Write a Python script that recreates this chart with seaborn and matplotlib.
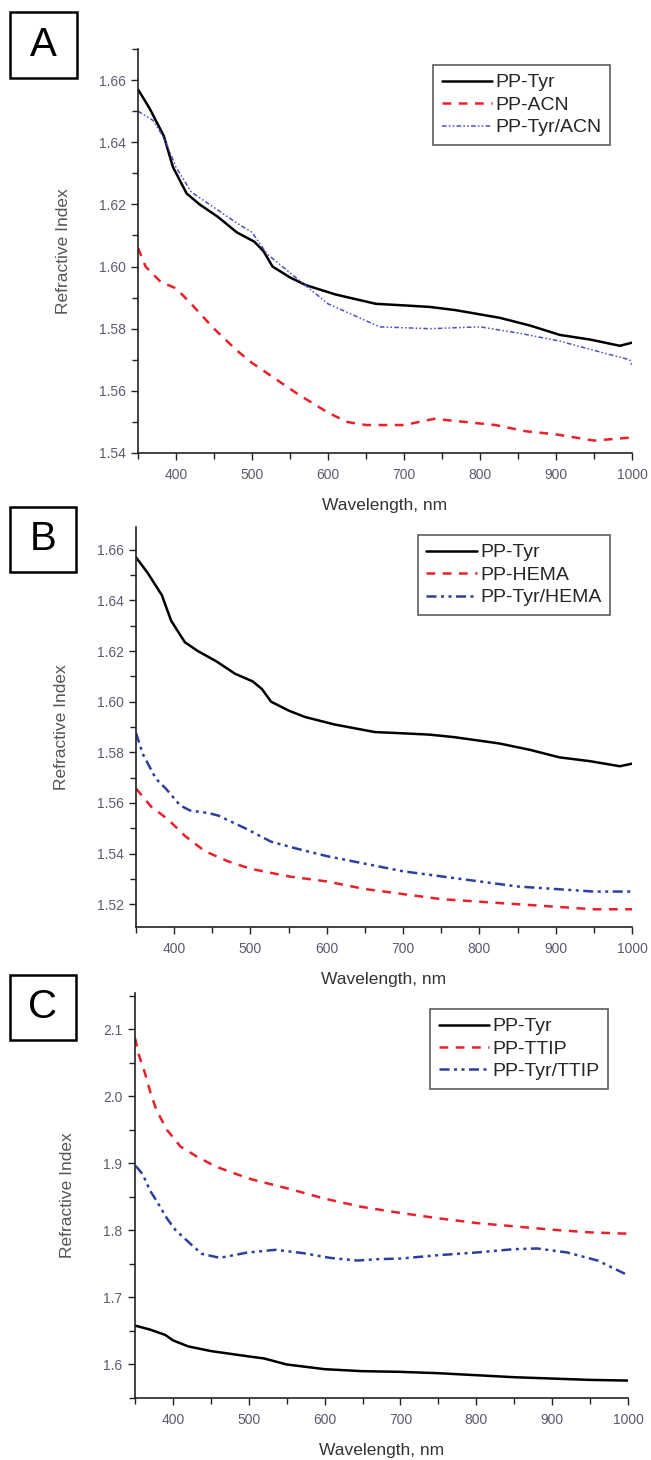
import numpy as np
import pandas as pd
import seaborn as sns
import matplotlib.pyplot as plt
from matplotlib.patches import Rectangle
from matplotlib.ticker import MultipleLocator

sns.set_style('white')
plt.rcParams['font.family'] = ['Liberation Sans', 'DejaVu Sans']

# ---- data ----
# PP-Tyr, shared by panels A and B
wl_tyr = [350, 365, 384, 396, 414, 431, 455, 480, 503, 515, 527, 550, 571, 610, 663,
          700, 734, 767, 826, 866, 905, 945, 984, 1000]
ri_tyr = [1.657, 1.651, 1.642, 1.632, 1.6235, 1.620, 1.616, 1.611, 1.608, 1.605, 1.600,
          1.5965, 1.594, 1.591, 1.588, 1.5875, 1.587, 1.586, 1.5835, 1.581, 1.578,
          1.5765, 1.5745, 1.5755]

# panel A
wl_acn = [350, 360, 380, 400, 420, 450, 480, 500, 530, 560, 600, 625, 650, 700,
          740, 780, 820, 860, 900, 950, 1000]
ri_acn = [1.606, 1.600, 1.595, 1.593, 1.588, 1.580, 1.573, 1.569, 1.564, 1.559, 1.553,
          1.550, 1.549, 1.549, 1.551, 1.550, 1.549, 1.547, 1.546, 1.544, 1.545]

wl_tyr_acn = [350, 370, 385, 400, 420, 450, 480, 500, 520, 550, 580, 600, 668, 734,
              800, 853, 905, 958, 997, 1000]
ri_tyr_acn = [1.650, 1.647, 1.641, 1.632, 1.624, 1.619, 1.614, 1.611, 1.604, 1.598,
              1.592, 1.588, 1.5806, 1.580, 1.5806, 1.5785, 1.5760, 1.5725, 1.570, 1.568]

# panel B
wl_hema = [350, 370, 392, 414, 440, 470, 500, 550, 600, 650, 700, 750, 800, 850,
           900, 950, 1000]
ri_hema = [1.5657, 1.5585, 1.5535, 1.547, 1.541, 1.537, 1.534, 1.531, 1.529, 1.526,
           1.524, 1.522, 1.521, 1.520, 1.519, 1.518, 1.518]

wl_tyr_hema = [350, 359, 376, 389, 408, 421, 445, 458, 493, 527, 560, 600, 650, 700,
               750, 800, 850, 900, 950, 1000]
ri_tyr_hema = [1.5876, 1.5793, 1.5696, 1.5657, 1.559, 1.557, 1.556, 1.555, 1.550,
               1.5447, 1.542, 1.539, 1.536, 1.533, 1.531, 1.529, 1.527, 1.526, 1.525,
               1.525]

# panel C
wl_ttip = [350, 355, 363, 370, 378, 392, 410, 433, 457, 481, 504, 553, 601, 649,
           700, 750, 800, 850, 900, 950, 1000]
ri_ttip = [2.087, 2.062, 2.035, 2.007, 1.980, 1.950, 1.925, 1.909, 1.895, 1.885,
           1.876, 1.862, 1.847, 1.835, 1.826, 1.818, 1.811, 1.806, 1.801, 1.797, 1.795]

wl_tyr_ttip = [351, 360, 370, 379, 392, 403, 423, 438, 462, 497, 535, 572, 607, 643,
               669, 700, 750, 800, 850, 880, 920, 960, 1000]
ri_tyr_ttip = [1.896, 1.884, 1.859, 1.843, 1.818, 1.801, 1.780, 1.765, 1.759, 1.7667,
               1.771, 1.766, 1.759, 1.755, 1.757, 1.758, 1.763, 1.767, 1.772, 1.773,
               1.767, 1.755, 1.733]

wl_tyr_c = [350, 370, 390, 400, 420, 450, 500, 520, 550, 600, 650, 700, 750, 800,
            850, 900, 950, 1000]
ri_tyr_c = [1.658, 1.652, 1.644, 1.636, 1.627, 1.620, 1.612, 1.609, 1.600, 1.593,
            1.590, 1.589, 1.587, 1.584, 1.581, 1.579, 1.577, 1.576]

RED = '#e8202a'
BLUE_A = '#4a4fc0'
BLUE = '#2d3f9e'
TICK_COL = '#5c5a70'

W, H = 651, 1460
fig = plt.figure(figsize=(W / 100, H / 100), dpi=100)


def px_axes(left, right, top, bottom):
    return fig.add_axes([left / W, 1 - bottom / H, (right - left) / W, (bottom - top) / H])


def style_axes(ax, ymaj, ymin, ylim, fmt):
    ax.set_xlim(350, 1000)
    ax.set_ylim(*ylim)
    ax.xaxis.set_minor_locator(MultipleLocator(50))
    ax.yaxis.set_major_locator(MultipleLocator(ymaj))
    ax.yaxis.set_minor_locator(MultipleLocator(ymin))
    ax.yaxis.set_major_formatter(plt.FormatStrFormatter(fmt))
    ax.set_xticks([400, 500, 600, 700, 800, 900, 1000])
    for s in ['top', 'right']:
        ax.spines[s].set_visible(False)
    for s in ['left', 'bottom']:
        ax.spines[s].set_color('#222222')
        ax.spines[s].set_linewidth(1.2)
    ax.tick_params(which='both', direction='out', color='#222222', width=1.0,
                   bottom=True, left=True, labelsize=10, labelcolor=TICK_COL)
    ax.tick_params(which='major', length=5, pad=4)
    ax.tick_params(which='minor', length=4)
    ax.tick_params(axis='x', which='major', pad=6)
    ax.set_xlabel('Wavelength, nm', fontsize=12.5, color='#333333', labelpad=11)
    ax.set_ylabel('Refractive Index', fontsize=12.5, color='#555555', labelpad=20)


def letter_box(letter, x0, y0, x1, y1):
    fig.patches.append(Rectangle((x0 / W, 1 - y1 / H), (x1 - x0) / W, (y1 - y0) / H,
                                 transform=fig.transFigure, fill=False,
                                 edgecolor='black', linewidth=1.8))
    fig.text((x0 + x1) / 2 / W, 1 - (y0 + y1) / 2 / H, letter, fontsize=29,
             ha='center', va='center', color='black')


def add_legend(ax, right, top):
    leg = ax.legend(loc='upper right', bbox_to_anchor=(right / W, 1 - top / H),
                    bbox_transform=fig.transFigure, borderaxespad=0, fancybox=False,
                    frameon=True, fontsize=14, handlelength=2.6, handletextpad=0.15,
                    labelspacing=0.25, borderpad=0.45)
    leg.get_frame().set_edgecolor('#333333')
    leg.get_frame().set_linewidth(1.2)


# ---- panel A ----
axA = px_axes(138, 632, 49, 453)
sns.lineplot(x=wl_tyr, y=ri_tyr, ax=axA, color='black', lw=1.8, label='PP-Tyr')
sns.lineplot(x=wl_acn, y=ri_acn, ax=axA, color=RED, lw=1.8,
             linestyle=(0, (3.5, 3)), label='PP-ACN')
sns.lineplot(x=wl_tyr_acn, y=ri_tyr_acn, ax=axA, color=BLUE_A, lw=1.1,
             linestyle=(0, (3, 1.5, 1, 1.5, 1, 1.5)), label='PP-Tyr/ACN')
style_axes(axA, 0.02, 0.01, (1.54, 1.670), '%.2f')
add_legend(axA, 610, 65)
letter_box('A', 10, 12, 77, 78)

# ---- panel B ----
axB = px_axes(136, 632, 527, 927)
sns.lineplot(x=wl_tyr, y=ri_tyr, ax=axB, color='black', lw=1.8, label='PP-Tyr')
sns.lineplot(x=wl_hema, y=ri_hema, ax=axB, color=RED, lw=1.8,
             linestyle=(0, (3.5, 3)), label='PP-HEMA')
sns.lineplot(x=wl_tyr_hema, y=ri_tyr_hema, ax=axB, color=BLUE, lw=1.8,
             linestyle=(0, (4, 1.8, 1.2, 1.8, 1.2, 1.8)), label='PP-Tyr/HEMA')
style_axes(axB, 0.02, 0.01, (1.511, 1.669), '%.2f')
add_legend(axB, 610, 535)
letter_box('B', 10, 507, 76, 572)

# ---- panel C ----
axC = px_axes(135, 628, 993, 1398)
sns.lineplot(x=wl_tyr_c, y=ri_tyr_c, ax=axC, color='black', lw=1.8, label='PP-Tyr')
sns.lineplot(x=wl_ttip, y=ri_ttip, ax=axC, color=RED, lw=1.8,
             linestyle=(0, (3.5, 3)), label='PP-TTIP')
sns.lineplot(x=wl_tyr_ttip, y=ri_tyr_ttip, ax=axC, color=BLUE, lw=1.8,
             linestyle=(0, (4, 1.8, 1.2, 1.8, 1.2, 1.8)), label='PP-Tyr/TTIP')
style_axes(axC, 0.1, 0.05, (1.55, 2.154), '%.1f')
add_legend(axC, 608, 1009)
letter_box('C', 10, 975, 76, 1040)

fig.savefig('out.png', dpi=100, facecolor='white')
